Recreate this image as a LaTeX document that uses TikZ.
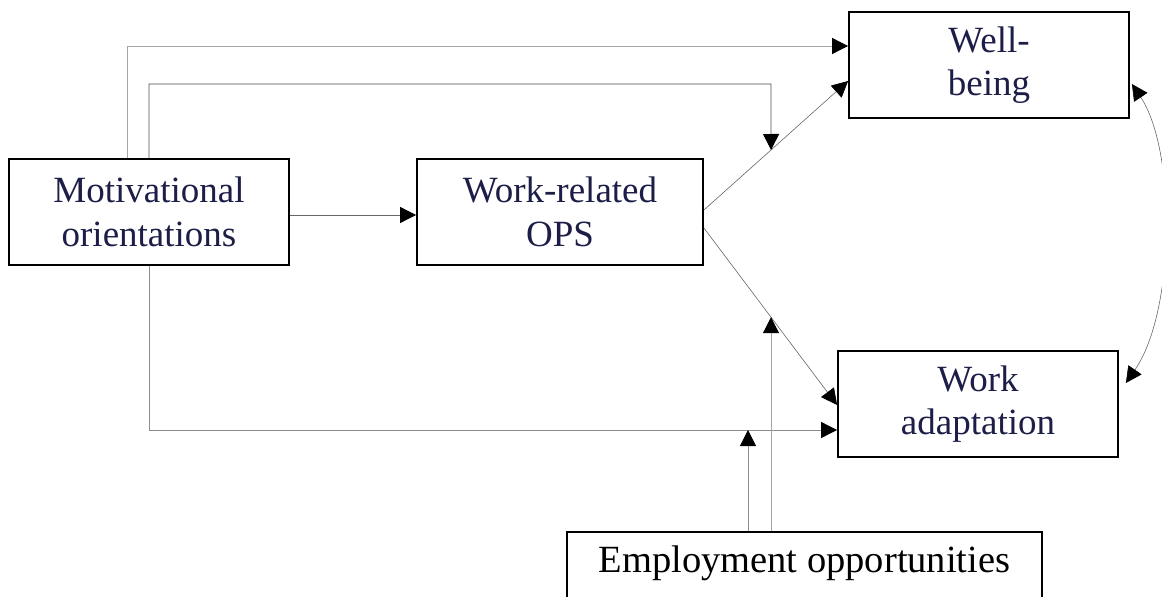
\documentclass[tikz,border=0pt]{standalone}
\usepackage{fontspec}
\setmainfont{Liberation Serif}
\usetikzlibrary{arrows.meta,calc}
\definecolor{labelnavy}{RGB}{28,30,72}
\tikzset{Tri/.tip={Triangle[length=16pt,width=16pt,color=black]}}
\begin{document}
\begin{tikzpicture}[x=1pt,y=-1pt,
  box/.style={draw=black, line width=1.8pt, inner sep=0pt, minimum height=106pt,
    text=labelnavy, align=center, font=\fontsize{37}{43.5}\selectfont},
  conn/.style={line width=0.8pt, draw=black!60, -Tri},
  thin conn/.style={conn, line width=0.6pt}]
\useasboundingbox (0,0) rectangle (1162,597);
\clip (0,0) rectangle (1162,597);

% boxes
\node[box, minimum width=280pt] (mo)  at (149,212) {Motivational\\orientations};
\node[box, minimum width=286pt] (ops) at (560,212) {Work-related\\OPS};
\node[box, minimum width=280pt] (wb)  at (989,65)  {Well-\\being};
\node[box, minimum width=280pt] (wa)  at (978,404) {Work\\adaptation};
\node[box, minimum width=475pt, text=black, font=\fontsize{38.5}{44}\selectfont,
  text height=25pt, text depth=51pt] (emp) at (804.5,585) {Employment opportunities};

% routing points
\coordinate (xa) at (127,46);
\coordinate (xb) at (149,84);
\coordinate (xc) at (771,84);
\coordinate (xf) at (771,0);
\coordinate (yd) at (149,430);
\coordinate (xe) at (748,430);

% direct paths
\draw[conn, draw=black!35] (mo.north -| xa) |- (wb.west |- xa);
\draw[conn] ($(mo.east)+(0,3)$) -- ($(ops.west)+(0,3)$);
\draw[conn, draw=black!45] (mo.south -| yd) |- (wa.west |- yd);

% mediated paths
\coordinate (d1s) at ($(ops.east)+(0,-2)$);
\coordinate (d1e) at ($(wb.west)+(0,16)$);
\draw[thin conn] (d1s) -- (d1e);
\coordinate (d2s) at ($(ops.east)+(0,16)$);
\coordinate (d2e) at ($(wa.west)+(0,1)$);
\draw[thin conn] (d2s) -- (d2e);

% moderators
\coordinate (m1) at (intersection of d1s--d1e and xc--xf);
\coordinate (m2) at (intersection of d2s--d2e and xc--xf);
\draw[conn, draw=black!70] (mo.north -| xb) |- (xc) -- (m1);
\draw[conn, draw=black!35] (emp.north -| xc) -- (m2);
\draw[conn, draw=black!45] (emp.north -| xe) -- (xe);

% covariance between outcomes
\draw[thin conn, Tri-Tri] ($(wb.east)+(2,19)$)
  .. controls (1176,150) and (1176,310) .. ($(wa.east)+(7,-21)$);
\end{tikzpicture}
\end{document}
